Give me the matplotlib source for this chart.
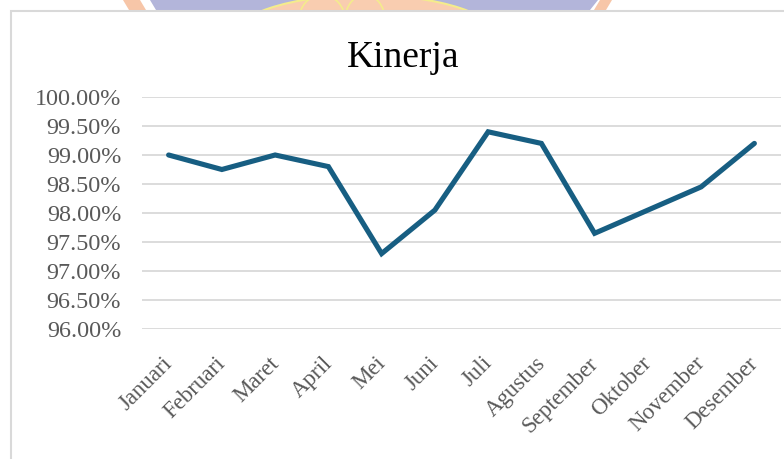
import numpy as np
import matplotlib
matplotlib.use("Agg")
import matplotlib.pyplot as plt
from matplotlib.patches import Polygon, Rectangle, Ellipse
from matplotlib.ticker import FuncFormatter
import matplotlib.transforms as mtransforms

bulan = ["Januari", "Februari", "Maret", "April", "Mei", "Juni", "Juli",
         "Agustus", "September", "Oktober", "November", "Desember"]
kinerja = [99.00, 98.75, 99.00, 98.80, 97.30, 98.05, 99.40,
           99.20, 97.65, 98.05, 98.45, 99.20]
yticks = [96.0, 96.5, 97.0, 97.5, 98.0, 98.5, 99.0, 99.5, 100.0]

plt.rcParams['font.family'] = ['Liberation Serif', 'DejaVu Serif']

W, H = 784, 459
fig = plt.figure(figsize=(W / 100, H / 100), dpi=100)

# watermark strip peeking above the chart area (pixel coords, y down)
def px(pts):
    return [[a / W, 1 - b / H] for a, b in pts]

band = Rectangle((0, 1 - 10 / H), 1, 10 / H, transform=fig.transFigure,
                 fc="none", ec="none")
fig.patches.append(band)
shapes = [
    Polygon(px([(123, 0), (140, 0), (146, 10), (129, 10)]), fc="#f7c6a8", ec="none"),
    Polygon(px([(150, 0), (598, 0), (590, 10), (156, 10)]), fc="#b3b5da", ec="none"),
    Polygon(px([(600, 0), (612, 0), (606, 10), (594, 10)]), fc="#f7c6a8", ec="none"),
    Ellipse(((365) / W, 1 - 40 / H), 270 / W, 90 / H, fc="#f9cdb0", ec="#f4ec8c", lw=1.5),
    Ellipse(((322) / W, 1 - 20 / H), 46 / W, 50 / H, fc="none", ec="#f4ec8c", lw=1.2),
    Ellipse(((365) / W, 1 - 20 / H), 40 / W, 50 / H, fc="none", ec="#f4ec8c", lw=1.2),
]
for s in shapes:
    s.set_transform(fig.transFigure)
    s.set_zorder(0)
    s.set_clip_path(band)
    fig.patches.append(s)

# chart area border
fig.patches.append(Rectangle((11 / W, -0.05), 1.0, 1 - 10.5 / H + 0.05, transform=fig.transFigure,
                             fc="white", ec="#d9d9d9", lw=1.5, zorder=1))

ax = fig.add_axes([142 / W, 1 - 329 / H, (781 - 142) / W, (329 - 97) / H])
ax.set_facecolor("none")
ax.set_zorder(2)

x = np.arange(len(bulan))
ax.plot(x, kinerja, color="#175e82", lw=3.7, solid_joinstyle="miter",
        solid_capstyle="round", zorder=3)

ax.set_xlim(-0.5, len(bulan) - 0.5)
ax.set_ylim(96, 100)
ax.set_yticks(yticks)
ax.yaxis.set_major_formatter(FuncFormatter(lambda v, p: f"{v:.2f}%"))
ax.grid(axis="y", color="#d9d9d9", lw=1.3)
ax.set_axisbelow(True)
for s in ax.spines.values():
    s.set_visible(False)
ax.tick_params(axis="both", length=0, colors="#595959", labelsize=17.4)
ax.tick_params(axis="y", pad=15)

ax.set_xticks(x)
ax.set_xticklabels(bulan, rotation=45, ha="right", va="center",
                   rotation_mode="anchor", fontsize=16.5)
offset = mtransforms.ScaledTranslation(0.5 / 72, -19 / 72, fig.dpi_scale_trans)
for lab in ax.get_xticklabels():
    lab.set_transform(lab.get_transform() + offset)

fig.text(403 / W, 1 - 67 / H, "Kinerja", ha="center", va="baseline",
         fontsize=27, color="black")

fig.savefig("out.png", dpi=100)
